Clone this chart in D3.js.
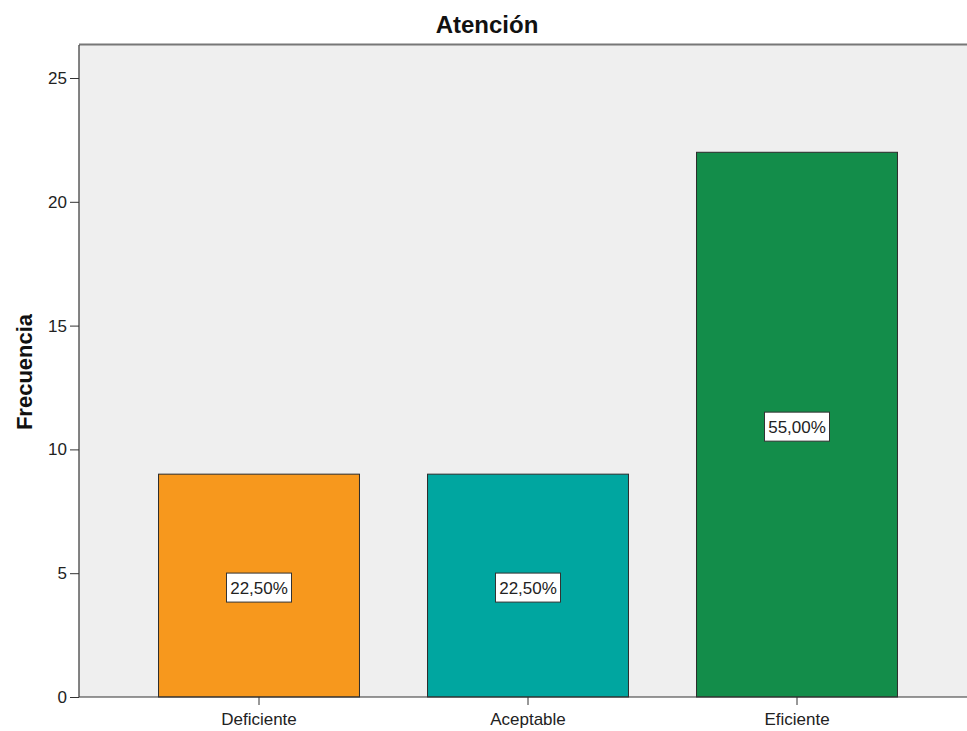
<!DOCTYPE html>
<html><head><meta charset="utf-8">
<script src="https://cdn.jsdelivr.net/npm/d3@7"></script>
<style>body{margin:0;background:#fff}svg{display:block}text{font-family:Arial,"Liberation Sans",sans-serif}</style>
</head><body><svg id="c" width="967" height="731"></svg>
<script>
const categories = ["Deficiente", "Aceptable", "Eficiente"];
const frequencies = [9, 9, 22];
const percentLabels = ["22,50%", "22,50%", "55,00%"];
const barColors = ["#f7981d", "#00a6a0", "#138d4a"];
const yTicks = [0, 5, 10, 15, 20, 25];

const svg = d3.select("#c");
const plot = {left: 79, top: 45, right: 975, bottom: 697};

const y = d3.scaleLinear().domain([0, 25]).range([697, 78]);
const x = d3.scaleBand().domain(categories).range([124.5, 931.5]).paddingInner(0.253).paddingOuter(0.1265);

svg.append("rect").attr("x", plot.left).attr("y", plot.top)
  .attr("width", plot.right - plot.left).attr("height", plot.bottom - plot.top)
  .attr("fill", "#efefef");
svg.append("line").attr("x1", plot.left).attr("x2", plot.right).attr("y1", plot.top - 0.5).attr("y2", plot.top - 0.5)
  .attr("stroke", "#777").attr("stroke-width", 2);

svg.selectAll("rect.bar").data(categories).enter().append("rect")
  .attr("class", "bar")
  .attr("x", d => x(d)).attr("width", x.bandwidth())
  .attr("y", (d, i) => y(frequencies[i])).attr("height", (d, i) => y(0) - y(frequencies[i]))
  .attr("fill", (d, i) => barColors[i]).attr("stroke", "#2b2b2b").attr("stroke-width", 1);

const yAxis = d3.axisLeft(y).tickValues(yTicks).tickSize(9).tickPadding(3);
const gy = svg.append("g").attr("transform", `translate(${plot.left},0)`).call(yAxis);
gy.select(".domain").remove();
gy.selectAll("text").attr("font-size", 17).attr("fill", "#222").attr("font-family", "Arial, 'Liberation Sans', sans-serif");
gy.selectAll(".tick line").attr("stroke", "#333");
svg.append("line").attr("x1", plot.left).attr("x2", plot.left).attr("y1", plot.top).attr("y2", plot.bottom)
  .attr("stroke", "#333").attr("stroke-width", 1.2);

const xAxis = d3.axisBottom(x).tickSize(8).tickPadding(8).tickSizeOuter(0);
const gx = svg.append("g").attr("transform", `translate(0,${plot.bottom})`).call(xAxis);
gx.select(".domain").remove();
gx.selectAll("text").attr("font-size", 17).attr("fill", "#222").attr("font-family", "Arial, 'Liberation Sans', sans-serif");
gx.selectAll(".tick line").attr("stroke", "#333");
svg.append("line").attr("x1", plot.left).attr("x2", plot.right).attr("y1", plot.bottom).attr("y2", plot.bottom)
  .attr("stroke", "#333").attr("stroke-width", 1.2);

const lab = svg.selectAll("g.lab").data(categories).enter().append("g")
  .attr("transform", (d, i) => `translate(${x(d) + x.bandwidth() / 2},${y(frequencies[i] / 2) + 2})`);
lab.append("rect").attr("x", -32.5).attr("y", -14.5).attr("width", 65).attr("height", 29)
  .attr("fill", "#fff").attr("stroke", "#333").attr("stroke-width", 1);
lab.append("text").attr("text-anchor", "middle").attr("dy", "0.36em").attr("font-size", 17).attr("fill", "#222")
  .text((d, i) => percentLabels[i]);

svg.append("text").attr("x", 487).attr("y", 33).attr("text-anchor", "middle")
  .attr("font-size", 24).attr("font-weight", "bold").attr("fill", "#111").text("Atención");
svg.append("text").attr("transform", "translate(32,372) rotate(-90)").attr("text-anchor", "middle")
  .attr("font-size", 22).attr("font-weight", "bold").attr("fill", "#111").text("Frecuencia");
</script></body></html>
